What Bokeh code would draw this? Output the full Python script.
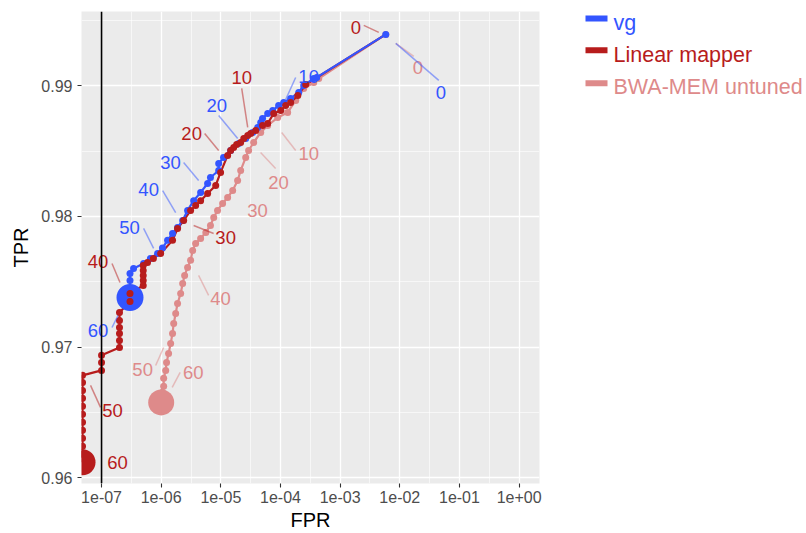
import math
from bokeh.plotting import figure
from bokeh.models import Range1d, FixedTicker, CustomJSTickFormatter, Span
from bokeh.layouts import row
from bokeh.embed import file_html
from bokeh.resources import INLINE
from bokeh.core.properties import value

# ---------------- data ----------------
series_names = ["vg", "Linear mapper", "BWA-MEM untuned"]
mapq_labels = ["0", "10", "20", "30", "40", "50", "60"]

vg_fpr = [5.82e-3, 4.05e-4, 3.61e-4, 2.45e-4, 2.02e-4, 1.48e-4, 1.13e-4, 9.3e-5, 7.4e-5,
          6.1e-5, 5.0e-5, 4.66e-5, 4.14e-5, 3.42e-5, 2.61e-5, 1.99e-5, 1.46e-5, 1.11e-5,
          9.2e-6, 9.2e-6, 6.7e-6, 6.0e-6, 4.58e-6, 3.50e-6, 2.77e-6, 2.29e-6, 1.88e-6,
          1.55e-6, 1.28e-6, 1.05e-6, 8.7e-7, 6.6e-7, 5.07e-7, 3.44e-7, 3.0e-7, 3.0e-7, 3.0e-7]
vg_tpr = [0.99393, 0.99064, 0.99056, 0.99002, 0.98949, 0.98903, 0.98872, 0.98849, 0.98811,
          0.98788, 0.98750, 0.98719, 0.98681, 0.98643, 0.98597, 0.98559, 0.98505, 0.98451,
          0.98406, 0.98352, 0.98298, 0.98252, 0.98184, 0.98121, 0.98046, 0.97969, 0.97916,
          0.97870, 0.97817, 0.97758, 0.97717, 0.97679, 0.97640, 0.97602, 0.97564, 0.97510, 0.97380]

lin_fpr = [5.82e-3, 2.65e-4, 1.95e-4, 1.48e-4, 1.22e-4, 1.01e-4, 7.7e-5, 6.1e-5, 5.0e-5,
           3.84e-5, 3.16e-5, 2.82e-5, 2.42e-5, 2.15e-5, 1.84e-5, 1.64e-5, 1.46e-5, 1.30e-5,
           9.9e-6, 8.2e-6, 6.0e-6, 4.58e-6, 3.78e-6, 3.11e-6, 2.38e-6, 1.88e-6, 1.55e-6,
           9.8e-7, 7.4e-7, 5.9e-7, 5.0e-7, 5.0e-7, 5.0e-7, 5.0e-7, 5.0e-7, 3.0e-7, 3.0e-7,
           2.0e-7, 2.0e-7, 2.0e-7, 2.0e-7, 2.0e-7, 2.0e-7, 1.0e-7, 1.0e-7, 1.0e-7,
           4.8e-8, 4.8e-8, 4.8e-8, 4.8e-8, 4.8e-8, 4.8e-8, 4.8e-8, 4.8e-8, 4.8e-8, 4.8e-8,
           4.8e-8, 4.8e-8]
lin_tpr = [0.99393, 0.99010, 0.98926, 0.98872, 0.98849, 0.98811, 0.98788, 0.98712, 0.98696,
           0.98658, 0.98635, 0.98620, 0.98597, 0.98566, 0.98551, 0.98528, 0.98505, 0.98467,
           0.98337, 0.98237, 0.98176, 0.98121, 0.98084, 0.98046, 0.97969, 0.97908, 0.97817,
           0.97717, 0.97679, 0.97648, 0.97625, 0.97587, 0.97549, 0.97510, 0.97472, 0.97411, 0.97350,
           0.97265, 0.97204, 0.97150, 0.97104, 0.97051, 0.96998, 0.96937, 0.96883, 0.96822,
           0.96784, 0.96730, 0.96669, 0.96608, 0.96547, 0.96486, 0.96425, 0.96363, 0.96302, 0.96241,
           0.96180, 0.96119]

bwa_fpr = [5.82e-3, 4.38e-4, 3.61e-4, 2.45e-4, 1.80e-4, 1.32e-4, 8.97e-5, 6.1e-5, 4.66e-5,
           3.55e-5, 2.92e-5, 2.61e-5, 2.15e-5, 1.91e-5, 1.58e-5, 1.30e-5, 1.07e-5, 8.8e-6,
           7.6e-6, 6.7e-6, 5.6e-6, 4.58e-6, 3.78e-6, 3.37e-6, 3.11e-6, 2.77e-6, 2.47e-6,
           2.29e-6, 2.12e-6, 1.88e-6, 1.75e-6, 1.62e-6, 1.55e-6, 1.44e-6, 1.33e-6, 1.23e-6,
           1.19e-6, 1.10e-6, 1.10e-6, 1.05e-6, 1.0e-6]
bwa_tpr = [0.99393, 0.99056, 0.99025, 0.98979, 0.98888, 0.98796, 0.98757, 0.98696, 0.98643,
           0.98566, 0.98505, 0.98451, 0.98352, 0.98275, 0.98199, 0.98145, 0.98099, 0.98046,
           0.97992, 0.97931, 0.97878, 0.97832, 0.97793, 0.97740, 0.97664, 0.97610, 0.97549,
           0.97487, 0.97411, 0.97334, 0.97258, 0.97181, 0.97105, 0.97028, 0.96952, 0.96883,
           0.96822, 0.96761, 0.96700, 0.96654, 0.96577]

# index of the point reached at each MAPQ label threshold
vg_label_idx = [0, 6, 15, 22, 25, 30, 36]
lin_label_idx = [0, 11, 17, 24, 35, 47, 57]
bwa_label_idx = [0, 6, 10, 13, 25, 33, 40]

x_ticks = [1e-7, 1e-6, 1e-5, 1e-4, 1e-3, 1e-2, 1e-1, 1e0]
y_ticks = [0.96, 0.97, 0.98, 0.99]

# ---------------- layout / style ----------------
BLUE, RED, PINK = "#3355FF", "#B71C1C", "#DE8A8A"
FONT = "Liberation Sans"
FW, FH = 458, 472
XMIN, XMAX = 10 ** -7.336, 10 ** 0.342
YMIN, YMAX = 0.959564, 0.995685
PPD = FW / (math.log10(XMAX) - math.log10(XMIN))
PPY = FH / (YMAX - YMIN)

# label placement offsets (screen px, y down) relative to anchor: label centre, leader start, leader end
vg_lab = [(55, 58), (25, -26), (-22, -38), (-30, -30), (-34, -31), (-28, -26), (-32, 33)]
vg_seg = [((10, 9), (53, 46)), ((12, -25), (2, -3)), ((-20, -28), (-1, -5)), ((-17, -30), (-2, -12)),
          ((-20, -30), (-7, -8)), ((-14, -25), (-4, -5)), ((-18, 30), (-12, 18))]
lin_lab = [(-30, -7), (-6, -58), (-36, -22), (42, 17), (-32, -32), (30, 28), (35, 0)]
lin_seg = [((-22, -9), (-7, -2)), ((-6, -47), (0, -8)), ((-23, -22), (-9, -5)), ((10, 5), (30, 13)),
           ((-18, -30), (-10, -11)), ((8, 3), (18, 25)), None]
bwa_lab = [(32, 33), (31, 36), (30, 32), (20, 30), (33, 31), (-28, 26), (32, -30)]
bwa_seg = [((10, 9), (28, 22)), ((4, 15), (18, 33)), ((12, 2), (27, 18)), None,
           ((11, 8), (21, 28)), ((-15, 22), (-7, 4)), ((11, -15), (19, -30))]


def shift(x, y, d):
    return 10 ** (math.log10(x) + d[0] / PPD), y - d[1] / PPY


p = figure(width=542, height=533, x_axis_type="log",
           x_range=Range1d(XMIN, XMAX), y_range=Range1d(YMIN, YMAX),
           output_backend="svg", toolbar_location=None,
           min_border_left=81, min_border_right=3, min_border_top=11, min_border_bottom=50)
p.background_fill_color = "#EBEBEB"
p.border_fill_color = "white"
p.outline_line_color = None

x_minor = [10 ** (e + 0.5) for e in range(-8, 1)]
y_minor = [0.965, 0.975, 0.985, 0.995]
p.xgrid.ticker = FixedTicker(ticks=x_ticks, minor_ticks=x_minor)
p.ygrid.ticker = FixedTicker(ticks=y_ticks, minor_ticks=y_minor)
for g in (p.xgrid, p.ygrid):
    g.grid_line_color = "white"
    g.grid_line_width = 1.3
    g.minor_grid_line_color = "white"
    g.minor_grid_line_width = 0.6

p.xaxis.ticker = FixedTicker(ticks=x_ticks)
p.yaxis.ticker = FixedTicker(ticks=y_ticks)
p.xaxis.formatter = CustomJSTickFormatter(code="""
const s = tick.toExponential(0);
const m = s.match(/^(\\d)e([+-])(\\d+)$/);
if (!m) return s;
const e = m[3].length < 2 ? '0' + m[3] : m[3];
return m[1] + 'e' + m[2] + e;
""")
p.yaxis.formatter = CustomJSTickFormatter(code="return tick.toFixed(2);")
for ax in (p.xaxis, p.yaxis):
    ax.axis_line_color = None
    ax.major_tick_line_color = "#333333"
    ax.major_tick_line_width = 1.1
    ax.major_tick_in = 0
    ax.major_tick_out = 4
    ax.minor_tick_line_color = None
    ax.major_label_text_color = "#4D4D4D"
    ax.major_label_text_font = FONT
    ax.major_label_text_font_size = "16px"
    ax.axis_label_text_font = FONT
    ax.axis_label_text_font_size = "20px"
    ax.axis_label_text_font_style = "normal"
    ax.axis_label_text_color = "black"
p.xaxis.axis_label = "FPR"
p.yaxis.axis_label = "TPR"
p.xaxis.major_label_standoff = 3
p.xaxis.axis_label_standoff = 3
p.yaxis.major_label_standoff = 5
p.yaxis.axis_label_standoff = 6

p.add_layout(Span(location=1e-7, dimension="height", line_color="black", line_width=1.6))

PT = 7
# pink (BWA) underneath
p.line(bwa_fpr, bwa_tpr, line_color=PINK, line_width=2.2)
p.scatter(bwa_fpr[:-1], bwa_tpr[:-1], size=PT, fill_color=PINK, line_color=None)
p.scatter(bwa_fpr[-1:], bwa_tpr[-1:], size=26, fill_color=PINK, line_color=None)
# lines
p.line(lin_fpr, lin_tpr, line_color=RED, line_width=2.2)
p.line(vg_fpr, vg_tpr, line_color=BLUE, line_width=2.2)
# vg points
p.scatter(vg_fpr[:-1], vg_tpr[:-1], size=PT, fill_color=BLUE, line_color=None)
p.scatter(vg_fpr[-1:], vg_tpr[-1:], size=27, fill_color=BLUE, line_color=None)
# linear mapper points (first point coincides with vg's, hidden beneath it in the original)
p.scatter(lin_fpr[1:-1], lin_tpr[1:-1], size=PT, fill_color=RED, line_color=None)
p.scatter(lin_fpr[-1:], lin_tpr[-1:], size=26, fill_color=RED, line_color=None)

# repelled MAPQ labels with leader segments
for fpr, tpr, idx, labs, segs, col in [
        (bwa_fpr, bwa_tpr, bwa_label_idx, bwa_lab, bwa_seg, PINK),
        (lin_fpr, lin_tpr, lin_label_idx, lin_lab, lin_seg, RED),
        (vg_fpr, vg_tpr, vg_label_idx, vg_lab, vg_seg, BLUE)]:
    sx0, sy0, sx1, sy1 = [], [], [], []
    tx, ty = [], []
    for k, i in enumerate(idx):
        ax_, ay_ = fpr[i], tpr[i]
        lx, ly = shift(ax_, ay_, labs[k])
        tx.append(lx)
        ty.append(ly)
        if segs[k] is not None:
            a = shift(ax_, ay_, segs[k][0])
            b = shift(ax_, ay_, segs[k][1])
            sx0.append(a[0]); sy0.append(a[1]); sx1.append(b[0]); sy1.append(b[1])
    p.segment(sx0, sy0, sx1, sy1, line_color=col, line_alpha=0.5, line_width=1.5)
    p.text(tx, ty, text=mapq_labels, text_align="center", text_baseline="middle",
           text_font=value(FONT), text_font_size="18.5px", text_color=col)

# ---------------- legend (separate panel to the right) ----------------
# an empty title band (~15px) sits above this panel's frame; the y range starts below it
LW, LH, TOPPAD = 264, 533, 15
lg = figure(frame_width=LW, frame_height=LH - TOPPAD, x_range=Range1d(0, LW),
            y_range=Range1d(LH, TOPPAD),
            output_backend="svg", toolbar_location=None,
            min_border_left=0, min_border_right=0, min_border_top=0, min_border_bottom=0,
            x_axis_location=None, y_axis_location=None)
lg.outline_line_color = None
lg.grid.grid_line_color = None
lg.axis.visible = False
lg.background_fill_color = "white"
lg.border_fill_color = "white"
key_x = [54, 54, 54]
key_y = [22, 53.7, 86.7]
txt_y = [26, 58.3, 90.7]
leg_colors = [BLUE, RED, PINK]
lg.rect(key_x, key_y, width=22, height=6, fill_color=leg_colors, line_color=None)
lg.text([71, 71, 71], txt_y, text=series_names, text_align="left", text_baseline="alphabetic",
        text_font=value(FONT), text_font_size="21.5px", text_color=leg_colors)

layout = row(p, lg)
open("out.html", "w").write(file_html(layout, INLINE))
